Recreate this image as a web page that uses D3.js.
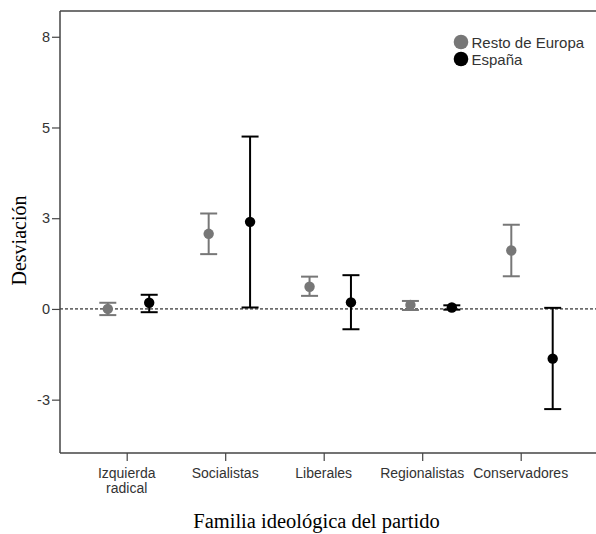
<!DOCTYPE html>
<html>
<head>
<meta charset="utf-8">
<script src="https://cdn.jsdelivr.net/npm/d3@7"></script>
<style>
  body { margin: 0; background: #fff; }
  svg { display: block; }
</style>
</head>
<body>
<div class="canvas"></div>
<script>
// data
const categories = ["Izquierda radical", "Socialistas", "Liberales", "Regionalistas", "Conservadores"];
const series = ["Resto de Europa", "España"];
const colors = ["#777777", "#000000"];

// mean, lower, upper per category
const restoMean = [0.0, 2.07, 0.61, 0.11, 1.61];
const restoLow  = [-0.17, 1.51, 0.36, -0.03, 0.90];
const restoHigh = [0.17, 2.63, 0.89, 0.22, 2.32];

const espMean = [0.17, 2.40, 0.18, 0.04, -1.37];
const espLow  = [-0.09, 0.04, -0.56, -0.02, -2.76];
const espHigh = [0.39, 4.75, 0.93, 0.10, 0.03];

const yTicks = [-2.5, 0, 2.5, 5, 7.5];
const yTickLabels = ["-3", "0", "3", "5", "8"];

const width = 596, height = 534;
const plotLeft = 60, plotRight = 596, plotTop = 11, plotBottom = 453;
const sans = "'Liberation Sans', Arial, sans-serif";
const serif = "'Liberation Serif', 'Times New Roman', serif";

const svg = d3.select(".canvas").append("svg")
    .attr("width", width)
    .attr("height", height);

const y = d3.scaleLinear().domain([-3.97, 8.21]).range([plotBottom, plotTop]);

// category ticks and cluster centres are placed slightly differently (as in the original)
const xTick = d3.scalePoint().domain(categories).range([126.7, 520.7]);
const xPts = d3.scalePoint().domain(categories).range([128.5, 532]);
const xOff = d3.scalePoint().domain(series).range([-20.7, 20.7]);

// frame
svg.append("line")
    .attr("x1", plotLeft).attr("x2", plotRight)
    .attr("y1", plotTop).attr("y2", plotTop)
    .attr("stroke", "#444").attr("stroke-width", 1.5);

// reference line at 0
svg.append("line")
    .attr("x1", plotLeft).attr("x2", plotRight)
    .attr("y1", y(0)).attr("y2", y(0))
    .attr("stroke", "#000").attr("stroke-width", 1)
    .attr("stroke-dasharray", "3,2");

// y axis
const yAxis = svg.append("g")
    .attr("transform", `translate(${plotLeft},0)`)
    .call(d3.axisLeft(y).tickValues(yTicks).tickSize(8).tickPadding(2)
        .tickFormat((d, i) => yTickLabels[i]));
yAxis.select(".domain").attr("stroke", "#444").attr("stroke-width", 1.5)
    .attr("d", `M0,${plotTop}V${plotBottom}`);
yAxis.selectAll(".tick line").attr("stroke", "#444").attr("stroke-width", 1.2);
yAxis.selectAll("text").attr("fill", "#333")
    .style("font-family", sans).style("font-size", "14.5px");

// x axis
const xAxis = svg.append("g")
    .attr("transform", `translate(0,${plotBottom})`)
    .call(d3.axisBottom(xTick).tickSize(8).tickPadding(4).tickFormat(""));
xAxis.select(".domain").attr("stroke", "#444").attr("stroke-width", 1.5)
    .attr("d", `M${plotLeft},0H${plotRight}`);
xAxis.selectAll(".tick line").attr("stroke", "#444").attr("stroke-width", 1.2);

// category labels (wrap "Izquierda radical")
categories.forEach(c => {
  const words = c === "Izquierda radical" ? ["Izquierda", "radical"] : [c];
  words.forEach((w, i) => {
    svg.append("text")
        .attr("x", xTick(c))
        .attr("y", plotBottom + 25 + i * 15)
        .attr("text-anchor", "middle")
        .attr("fill", "#333")
        .style("font-family", sans)
        .style("font-size", "14px")
        .text(w);
  });
});

// error bars
const groups = [
  { name: series[0], color: colors[0], mean: restoMean, low: restoLow, high: restoHigh },
  { name: series[1], color: colors[1], mean: espMean, low: espLow, high: espHigh }
];
const cap = 8.5;

groups.forEach(g => {
  const rows = categories.map((c, i) => ({ c, m: g.mean[i], lo: g.low[i], hi: g.high[i] }));
  const gg = svg.append("g");
  const cx = d => xPts(d.c) + xOff(g.name);

  gg.selectAll(".stem").data(rows).join("line")
      .attr("class", "stem")
      .attr("x1", cx).attr("x2", cx)
      .attr("y1", d => y(d.lo)).attr("y2", d => y(d.hi))
      .attr("stroke", g.color).attr("stroke-width", 2);

  gg.selectAll(".capHi").data(rows).join("line")
      .attr("class", "capHi")
      .attr("x1", d => cx(d) - cap).attr("x2", d => cx(d) + cap)
      .attr("y1", d => y(d.hi)).attr("y2", d => y(d.hi))
      .attr("stroke", g.color).attr("stroke-width", 2);

  gg.selectAll(".capLo").data(rows).join("line")
      .attr("class", "capLo")
      .attr("x1", d => cx(d) - cap).attr("x2", d => cx(d) + cap)
      .attr("y1", d => y(d.lo)).attr("y2", d => y(d.lo))
      .attr("stroke", g.color).attr("stroke-width", 2);

  gg.selectAll("circle").data(rows).join("circle")
      .attr("cx", cx).attr("cy", d => y(d.m))
      .attr("r", 5.2)
      .attr("fill", g.color);
});

// legend
const legend = svg.append("g").attr("transform", "translate(461,42)");
series.forEach((s, i) => {
  legend.append("circle")
      .attr("cx", 0).attr("cy", i * 17)
      .attr("r", 7.3)
      .attr("fill", colors[i]);
  legend.append("text")
      .attr("x", 10.5).attr("y", i * 17 + 6)
      .attr("fill", "#333")
      .style("font-family", sans)
      .style("font-size", "15px")
      .text(s);
});

// axis titles
svg.append("text")
    .attr("transform", "translate(26,240.5) rotate(-90)")
    .attr("text-anchor", "middle")
    .attr("fill", "#000")
    .style("font-family", serif)
    .style("font-size", "20px")
    .text("Desviación");

svg.append("text")
    .attr("x", 316.5)
    .attr("y", 528)
    .attr("text-anchor", "middle")
    .attr("fill", "#000")
    .style("font-family", serif)
    .style("font-size", "20.5px")
    .text("Familia ideológica del partido");
</script>
</body>
</html>
